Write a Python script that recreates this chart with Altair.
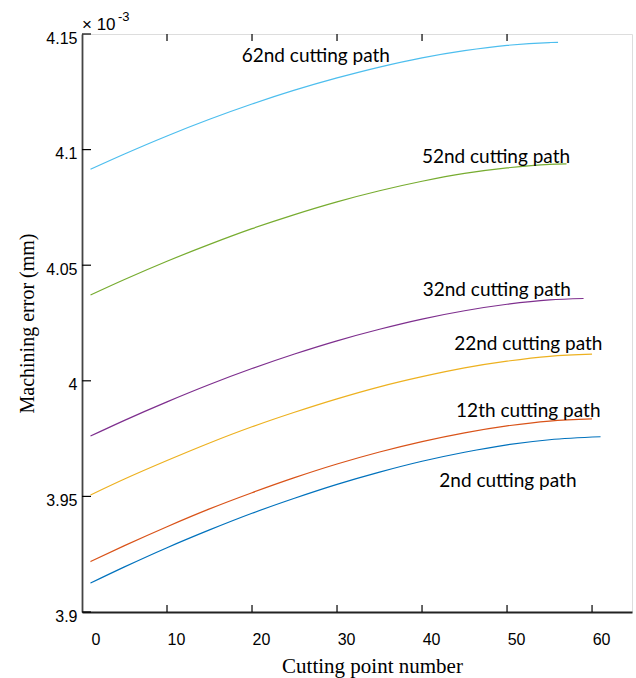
import altair as alt
import pandas as pd

# ---- data ----
x_points = [1, 5, 10, 15, 20, 25, 30, 35, 40, 45, 50, 55]
series_names = ["2nd", "12th", "22nd", "32nd", "52nd", "62nd"]
end_x = [61, 60, 60, 59, 57, 56]

err_2nd = [3.9125, 3.9195, 3.9278, 3.9355, 3.9427, 3.9492, 3.9552, 3.9605, 3.9652, 3.9691, 3.9723, 3.9745, 3.9758]
err_12th = [3.9218, 3.9287, 3.9369, 3.9446, 3.9516, 3.9581, 3.9640, 3.9692, 3.9737, 3.9775, 3.9805, 3.9826, 3.9835]
err_22nd = [3.9506, 3.9575, 3.9655, 3.9731, 3.9801, 3.9864, 3.9922, 3.9974, 4.0018, 4.0056, 4.0085, 4.0106, 4.0115]
err_32nd = [3.9761, 3.9829, 3.9909, 3.9984, 4.0053, 4.0116, 4.0173, 4.0223, 4.0267, 4.0303, 4.0331, 4.0350, 4.0356]
err_52nd = [4.0371, 4.0438, 4.0517, 4.0590, 4.0658, 4.0719, 4.0774, 4.0822, 4.0863, 4.0897, 4.0921, 4.0936, 4.0938]
err_62nd = [4.0915, 4.0981, 4.1059, 4.1131, 4.1197, 4.1257, 4.1310, 4.1357, 4.1397, 4.1428, 4.1451, 4.1463, 4.1464]

colors = ["#0072BD", "#D95319", "#EDB120", "#7E2F8E", "#77AC30", "#4DBEEE"]

label_texts = ["2nd cutting path", "12th cutting path", "22nd cutting path",
               "32nd cutting path", "52nd cutting path", "62nd cutting path"]
label_x = [50.1, 52.5, 52.5, 48.8, 48.7, 27.5]
label_y = [3.9542, 3.9845, 4.0133, 4.0368, 4.0942, 4.1379]

x_ticks = [0, 10, 20, 30, 40, 50, 60]
x_top_ticks = [10, 20, 30, 40, 50]
y_ticks = [3.9, 3.95, 4.0, 4.05, 4.1, 4.15]

# ---- build table ----
all_err = [err_2nd, err_12th, err_22nd, err_32nd, err_52nd, err_62nd]
rows = []
for name, ex, vals in zip(series_names, end_x, all_err):
    xs = x_points + [ex]
    for xv, yv in zip(xs, vals):
        rows.append({"series": name, "x": xv, "y": yv})
df = pd.DataFrame(rows)

W, H = 550, 578
xscale = alt.Scale(domain=[0, 64.7], nice=False, zero=False)
yscale = alt.Scale(domain=[3.9, 4.15], nice=False, zero=False)

x_axis = alt.Axis(values=x_ticks, title="Cutting point number", grid=False, ticks=False, tickSize=0,
                  labelFont="Liberation Sans", labelFontSize=16, labelColor="black", labelPadding=19,
                  labelOffset=9, domainColor="#222", domainWidth=1.8,
                  titleFont="Liberation Serif", titleFontSize=21, titleFontWeight="normal", titleColor="black",
                  titleX=290, titleY=60, titleBaseline="alphabetic", titleAlign="center")
y_axis = alt.Axis(values=y_ticks, format=".3~f", title="Machining error (mm)", grid=False, ticks=False, tickSize=0,
                  labelFont="Liberation Sans", labelFontSize=16, labelColor="black", labelPadding=5,
                  labelOffset=4, domainColor="#444", domainWidth=1.8,
                  titleFont="Liberation Serif", titleFontSize=20, titleFontWeight="normal", titleColor="black",
                  titleX=-49, titleY=289, titleAngle=270, titleBaseline="alphabetic", titleAlign="center")

X = alt.X("x:Q", scale=xscale, axis=x_axis)
Y = alt.Y("y:Q", scale=yscale, axis=y_axis)

lines = alt.Chart(df).mark_line(interpolate="monotone", strokeWidth=1.2).encode(
    x=X, y=Y,
    color=alt.Color("series:N", scale=alt.Scale(domain=series_names, range=colors), legend=None),
    order=alt.Order("x:Q"),
)

labels_df = pd.DataFrame({"x": label_x, "y": label_y, "t": label_texts})
labels = alt.Chart(labels_df).mark_text(font="Lato", fontSize=19, align="center",
                                        baseline="alphabetic", color="black").encode(
    x=X, y=Y, text="t:N")

bt = alt.Chart(pd.DataFrame({"x": x_ticks[1:]})).mark_rule(color="black", strokeWidth=1.2).encode(
    x=X, y=alt.value(H), y2=alt.value(H - 7))
tt = alt.Chart(pd.DataFrame({"x": x_top_ticks})).mark_rule(color="black", strokeWidth=1.2).encode(
    x=X, y=alt.value(0), y2=alt.value(7))
lt = alt.Chart(pd.DataFrame({"y": y_ticks})).mark_rule(color="black", strokeWidth=1.2).encode(
    y=Y, x=alt.value(0), x2=alt.value(9))

exp_main = alt.Chart(pd.DataFrame({"t": ["× 10"]})).mark_text(
    font="Liberation Sans", fontSize=17, align="left", baseline="alphabetic", color="black").encode(
    x=alt.value(0), y=alt.value(-4), text="t:N")
exp_sup = alt.Chart(pd.DataFrame({"t": ["-3"]})).mark_text(
    font="Liberation Sans", fontSize=13, align="left", baseline="alphabetic", color="black").encode(
    x=alt.value(36), y=alt.value(-13), text="t:N")

chart = alt.layer(lines, labels, bt, tt, lt, exp_main, exp_sup).properties(
    width=W, height=H,
    autosize=alt.AutoSizeParams(type="none"),
    padding={"left": 82, "top": 34, "right": 4, "bottom": 66},
).configure_view(stroke="#333", strokeWidth=1.3).configure(background="white")

chart.save("out.html", embed_options={"renderer": "svg", "actions": False})
